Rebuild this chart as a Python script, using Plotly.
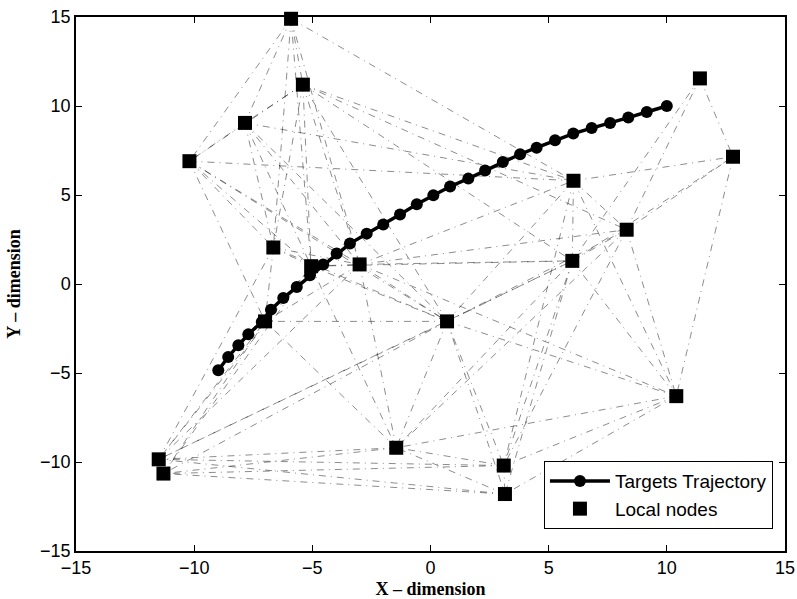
import plotly.graph_objects as go

# Target trajectory samples
traj_x = [-8.98, -8.56, -8.13, -7.71, -7.14, -6.75, -6.23, -5.66, -5.10, -4.54,
          -3.97, -3.41, -2.70, -2.00, -1.29, -0.58, 0.12, 0.83, 1.60, 2.31,
          3.06, 3.79, 4.49, 5.27, 6.04, 6.82, 7.60, 8.37, 9.15, 10.0]
traj_y = [-4.85, -4.10, -3.44, -2.83, -2.13, -1.44, -0.79, -0.17, 0.49, 1.09,
          1.71, 2.27, 2.83, 3.34, 3.90, 4.48, 4.98, 5.48, 5.92, 6.38,
          6.85, 7.29, 7.66, 8.07, 8.45, 8.76, 9.04, 9.35, 9.66, 10.0]

# Local node positions
node_x = [-5.9, -5.4, -7.85, -10.2, -6.65, -5.05, -3.0, 0.7, 6.05, 8.3,
          6.0, 11.4, 12.8, 10.4, 3.1, 3.15, -1.45, -11.5, -11.3, -7.0]
node_y = [14.9, 11.2, 9.05, 6.9, 2.05, 1.0, 1.1, -2.1, 5.8, 3.05,
          1.3, 11.55, 7.15, -6.3, -10.2, -11.8, -9.2, -9.85, -10.65, -2.1]

# Communication links between nodes (index pairs)
links = [
    (0, 1), (0, 2), (0, 3), (0, 4), (0, 5), (0, 8), (0, 6),
    (1, 2), (1, 3), (1, 4), (1, 5), (1, 6), (1, 8), (1, 9), (1, 10), (1, 7),
    (2, 3), (2, 4), (2, 5), (2, 6), (2, 7), (2, 8),
    (3, 4), (3, 5), (3, 6), (3, 8), (3, 7), (3, 19),
    (4, 5), (4, 6), (4, 19), (4, 17), (4, 7),
    (5, 6), (5, 7), (5, 19), (5, 17), (5, 18), (5, 16), (5, 10),
    (6, 7), (6, 8), (6, 9), (6, 10), (6, 16), (6, 17), (6, 19), (6, 13),
    (7, 8), (7, 9), (7, 10), (7, 13), (7, 14), (7, 15), (7, 16), (7, 17), (7, 18), (7, 19),
    (8, 9), (8, 10), (8, 12), (8, 13), (8, 14),
    (9, 10), (9, 11), (9, 12), (9, 13), (9, 14), (9, 16),
    (10, 11), (10, 12), (10, 13), (10, 14), (10, 15), (10, 16), (10, 17),
    (11, 12), (12, 13),
    (13, 14), (13, 15), (13, 16),
    (14, 15), (14, 16), (14, 17), (14, 18),
    (15, 16), (15, 17), (15, 18),
    (16, 17), (16, 18), (16, 19),
    (17, 18), (17, 19), (18, 19),
]

link_x, link_y = [], []
for a, b in links:
    link_x += [node_x[a], node_x[b], None]
    link_y += [node_y[a], node_y[b], None]

fig = go.Figure()

fig.add_trace(go.Scatter(
    x=link_x, y=link_y, mode="lines",
    line=dict(color="rgba(0,0,0,0.5)", width=0.9, dash="7px,5px,1px,5px"),
    showlegend=False, hoverinfo="skip",
))

fig.add_trace(go.Scatter(
    x=traj_x, y=traj_y, mode="lines+markers", name="Targets Trajectory",
    line=dict(color="black", width=3.5),
    marker=dict(symbol="circle", size=12, color="black"),
))

fig.add_trace(go.Scatter(
    x=node_x, y=node_y, mode="markers", name="Local nodes",
    marker=dict(symbol="square", size=14, color="black"),
    cliponaxis=False,
))

tick_font = dict(family="Liberation Sans, Arial", size=18, color="black")
title_font = dict(family="Liberation Serif, Times New Roman", size=18, color="black")

axis_common = dict(
    range=[-15, 15], tickvals=[-15, -10, -5, 0, 5, 10, 15],
    ticks="inside", ticklen=6, tickwidth=1, tickcolor="black",
    showline=True, linecolor="black", linewidth=1.5, mirror="ticks",
    showgrid=False, zeroline=False, tickfont=tick_font, automargin=False,
)

fig.update_layout(
    width=797, height=599,
    margin=dict(l=76, r=12, t=17, b=48),
    paper_bgcolor="white", plot_bgcolor="white",
    xaxis=dict(**axis_common, title=dict(text="<b>X – dimension</b>", font=title_font)),
    yaxis=dict(**axis_common, title=dict(text="<b>Y – dimension</b>", font=title_font)),
    legend=dict(
        x=0.983, y=0.041, xanchor="right", yanchor="bottom",
        bgcolor="white", bordercolor="black", borderwidth=1,
        font=dict(family="Liberation Sans, Arial", size=19, color="black"),
        tracegroupgap=0, itemwidth=60,
    ),
)

fig.write_html("out.html")
